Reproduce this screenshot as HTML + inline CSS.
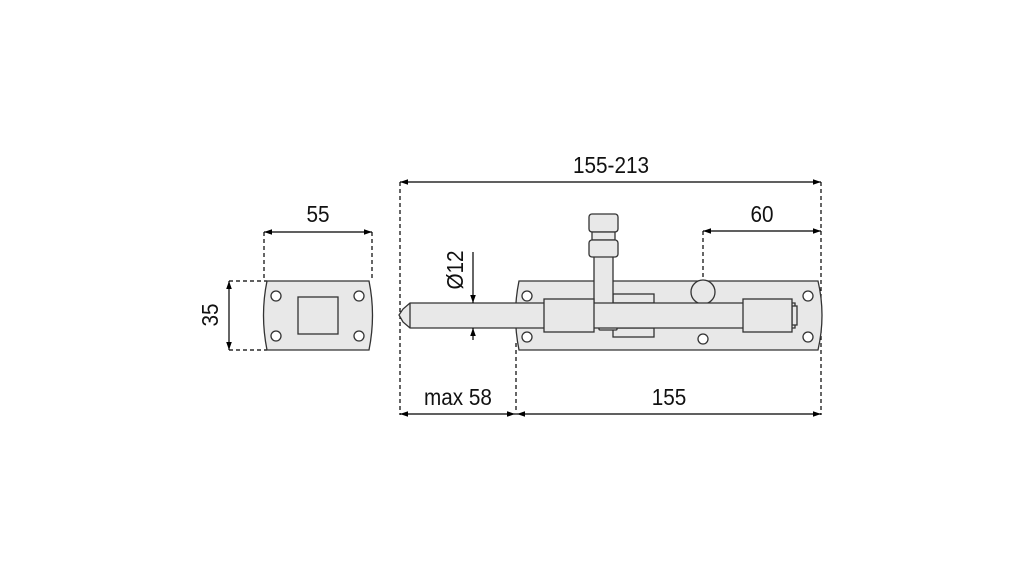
<!DOCTYPE html>
<html><head><style>html,body{margin:0;padding:0;background:#fff}svg{display:block}</style></head><body>
<svg width="1021" height="567" viewBox="0 0 1021 567" xmlns="http://www.w3.org/2000/svg">
<defs>
<marker id="a" viewBox="0 0 10 10" refX="10" refY="5" markerWidth="8" markerHeight="8" orient="auto-start-reverse" markerUnits="userSpaceOnUse"><path d="M0,1.5 L10,5 L0,8.5 z" fill="#000"/></marker>
</defs>
<g fill="none" stroke="#000" stroke-width="1.2" stroke-dasharray="4,3">
<line x1="264" y1="232" x2="264" y2="281"/><line x1="372" y1="232" x2="372" y2="281"/>
<line x1="229" y1="281" x2="267" y2="281"/><line x1="229" y1="350" x2="267" y2="350"/>
<line x1="400" y1="182" x2="400" y2="415"/><line x1="821" y1="182" x2="821" y2="415"/>
<line x1="703" y1="231" x2="703" y2="293"/>
<line x1="516" y1="343" x2="516" y2="415"/>
</g>
<g stroke="#000" stroke-width="1.2" marker-start="url(#a)" marker-end="url(#a)">
<line x1="264" y1="232" x2="372" y2="232"/>
<line x1="229" y1="281" x2="229" y2="350"/>
<line x1="400" y1="182" x2="821" y2="182"/>
<line x1="703" y1="231" x2="821" y2="231"/>
<line x1="400" y1="414" x2="515" y2="414"/>
<line x1="517" y1="414" x2="821" y2="414"/>
</g>
<g stroke="#333" stroke-width="1.3" fill="#e8e8e8">
<path d="M267,281 L369,281 Q376,315 369,350 L267,350 Q260,315 267,281 z"/>
<rect x="298" y="297" width="40" height="37"/>
<circle cx="276" cy="296" r="5" fill="#fff"/><circle cx="276" cy="336" r="5" fill="#fff"/>
<circle cx="359" cy="296" r="5" fill="#fff"/><circle cx="359" cy="336" r="5" fill="#fff"/>
<path d="M519,281 L818,281 Q826,315 818,350 L519,350 Q512,315 519,281 z"/>
<circle cx="527" cy="296" r="5" fill="#fff"/><circle cx="527" cy="337" r="5" fill="#fff"/>
<circle cx="808" cy="296" r="5" fill="#fff"/><circle cx="808" cy="337" r="5" fill="#fff"/>
<circle cx="703" cy="339" r="5" fill="#fff"/>
<circle cx="703" cy="292" r="12"/>
<rect x="613" y="294" width="41" height="9"/>
<rect x="613" y="328" width="41" height="9"/>
<rect x="599" y="326" width="18" height="4" rx="1"/>
<rect x="594" y="255" width="19" height="50"/>
<rect x="589" y="214" width="29" height="18" rx="3"/>
<rect x="592" y="232" width="23" height="8"/>
<rect x="589" y="240" width="29" height="17" rx="3"/>
<path d="M410,303 L795,303 L795,328 L410,328 L403,322 L399,315 L403,309 z"/>
<line x1="410" y1="303" x2="410" y2="328"/>
<rect x="792" y="306" width="5" height="19"/>
<rect x="544" y="299" width="50" height="33"/>
<rect x="743" y="299" width="49" height="33"/>
</g>
<g stroke="#000" stroke-width="1.2">
<line x1="473" y1="252" x2="473" y2="303" marker-end="url(#a)"/>
<line x1="473" y1="340" x2="473" y2="328" marker-end="url(#a)"/>
</g>
<g font-family="Liberation Sans, sans-serif" font-size="23" fill="#111" text-anchor="middle">
<text transform="translate(318,222) scale(0.9,1)">55</text>
<text transform="translate(611,173) scale(0.9,1)">155-213</text>
<text transform="translate(762,222) scale(0.9,1)">60</text>
<text transform="translate(458,405) scale(0.9,1)">max 58</text>
<text transform="translate(669,405) scale(0.9,1)">155</text>
<text transform="translate(218,315) rotate(-90) scale(0.9,1)">35</text>
<text transform="translate(463,270) rotate(-90) scale(0.9,1)">Ø12</text>
</g>
</svg>
</body></html>
